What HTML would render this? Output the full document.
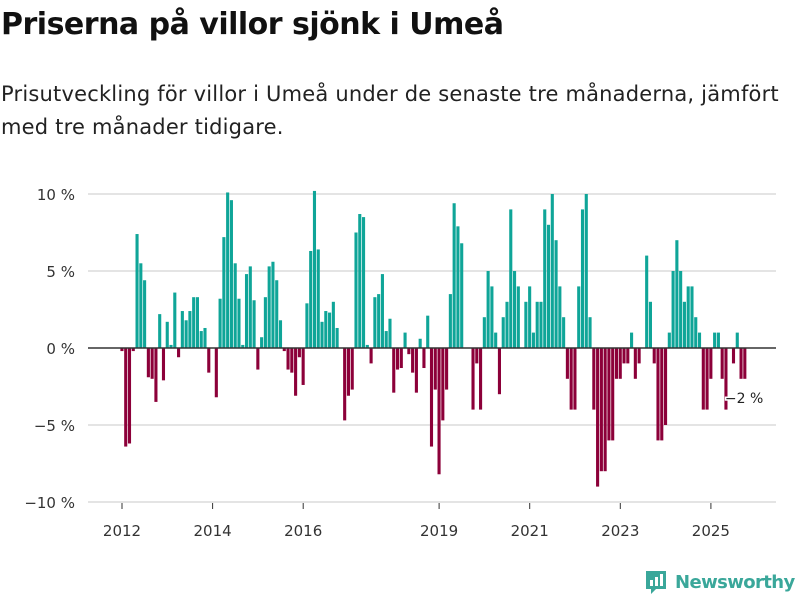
<!DOCTYPE html>
<html><head><meta charset="utf-8">
<style>
body{margin:0;width:800px;height:600px;background:#fff;font-family:"Liberation Sans","DejaVu Sans",sans-serif;color:#111;overflow:hidden;position:relative}
h1{position:absolute;left:1px;top:7px;margin:0;font-size:30px;font-weight:bold;font-family:"DejaVu Sans","Liberation Sans",sans-serif;letter-spacing:-0.5px}
p{position:absolute;left:1px;top:78px;margin:0;font-size:21px;line-height:33px;width:795px;font-family:"DejaVu Sans","Liberation Sans",sans-serif;color:#222;letter-spacing:0.2px}
</style></head><body>
<h1>Priserna på villor sjönk i Umeå</h1>
<p>Prisutveckling för villor i Umeå under de senaste tre månaderna, jämfört<br>med tre månader tidigare.</p>
<svg id="chart" width="800" height="600" style="position:absolute;left:0;top:0" font-family="DejaVu Sans, Liberation Sans, sans-serif"></svg>
<div style="position:absolute;left:644px;top:569px;display:flex;align-items:center">
<svg width="24" height="26"><path d="M2 2h20v18H12l-5 5v-5H2z" fill="#3aa79a"/><rect x="6" y="11" width="3" height="6" fill="#fff"/><rect x="11" y="8" width="3" height="9" fill="#fff"/><rect x="16" y="5" width="3" height="12" fill="#fff"/></svg>
<span style="font-family:'DejaVu Sans',sans-serif;font-weight:bold;font-size:18px;color:#3aa79a;margin-left:7px;letter-spacing:-0.6px">Newsworthy</span>
</div>
<script>
const values = [-0.2,-6.4,-6.2,-0.2,7.4,5.5,4.4,-1.9,-2.0,-3.5,2.2,-2.1,1.7,0.2,3.6,-0.6,2.4,1.8,2.4,3.3,3.3,1.1,1.3,-1.6,0,-3.2,3.2,7.2,10.1,9.6,5.5,3.2,
0.2,4.8,5.3,3.1,-1.4,0.7,3.3,5.3,5.6,4.4,1.8,-0.2,-1.4,-1.6,-3.1,-0.6,-2.4,2.9,6.3,10.2,6.4,1.7,2.4,2.3,3.0,1.3,0,-4.7,-3.1,-2.7,7.5,8.7,8.5,
0.2,-1.0,3.3,3.5,4.8,1.1,1.9,-2.9,-1.4,-1.3,1.0,-0.4,-1.6,-2.9,0.6,-1.3,2.1,-6.4,-2.7,-8.2,-4.7,-2.7,3.5,9.4,7.9,6.8,0,0,-4.0,-1.0,-4.0,2.0,5.0,
4.0,1.0,-3.0,2.0,3.0,9.0,5.0,4.0,0,3.0,4.0,1.0,3.0,3.0,9.0,8.0,10.0,7.0,4.0,2.0,-2.0,-4.0,-4.0,4.0,9.0,10.0,2.0,-4.0,-9.0,-8.0,-8.0,-6.0,-6.0,
-2,-2,-1,-1,1,-2,-1,0,6,3,-1,-6,-6,-5,1,5,7,5,3,4,4,2,1,-4,-4,-2,1,1,-2,-4,0,-1,1,-2,-2];
const startYear = 2012;
const yTicks = [10,5,0,-5,-10];
const yTickLabels = ["10 %","5 %","0 %","\u22125 %","\u221210 %"];
const xTickYears = [2012,2014,2016,2019,2021,2023,2025];
const lastLabel = "\u22122 %";

const NS="http://www.w3.org/2000/svg";
const svg=document.getElementById('chart');
const y=v=>348 - v*15.4;
const x=i=>122 + i*3.775;
function mk(tag,attrs){const e=document.createElementNS(NS,tag);for(const k in attrs)e.setAttribute(k,attrs[k]);svg.appendChild(e);return e;}
yTicks.forEach((t,k)=>{
  if(t!==0){const g=mk('line',{x1:88,x2:776,y1:y(t),y2:y(t),stroke:'#dcdcdc','stroke-width':1.5});
  
  }
  const tx=mk('text',{x:75,y:y(t)+6,'text-anchor':'end','font-size':15,fill:'#333'});
  tx.textContent=yTickLabels[k];
  
  
});
values.forEach((v,i)=>{
  const r=mk('rect',{x:x(i)-1.6,width:3.1,y:Math.min(y(v),y(0)),height:Math.abs(y(v)-y(0)),fill:v>=0?'#0fa598':'#8c0039'});
  
  
});
const ax=mk('line',{x1:88,x2:776,y1:y(0),y2:y(0),stroke:'#333','stroke-width':1.5});


xTickYears.forEach(yr=>{
  const xi=x((yr-startYear)*12);
  const tk=mk('line',{x1:xi,x2:xi,y1:503,y2:509,stroke:'#333','stroke-width':1});
  
  
  const t=mk('text',{x:xi,y:536,'text-anchor':'middle','font-size':15,fill:'#333'});
  t.textContent=yr;
  
  
});
const li=values.length-1;
const al=mk('text',{x:x(li)-20,y:y(values[li])+24,'font-size':14,fill:'#222',stroke:'#fff','stroke-width':3,'paint-order':'stroke'});
al.textContent=lastLabel;


</script>
</body></html>
